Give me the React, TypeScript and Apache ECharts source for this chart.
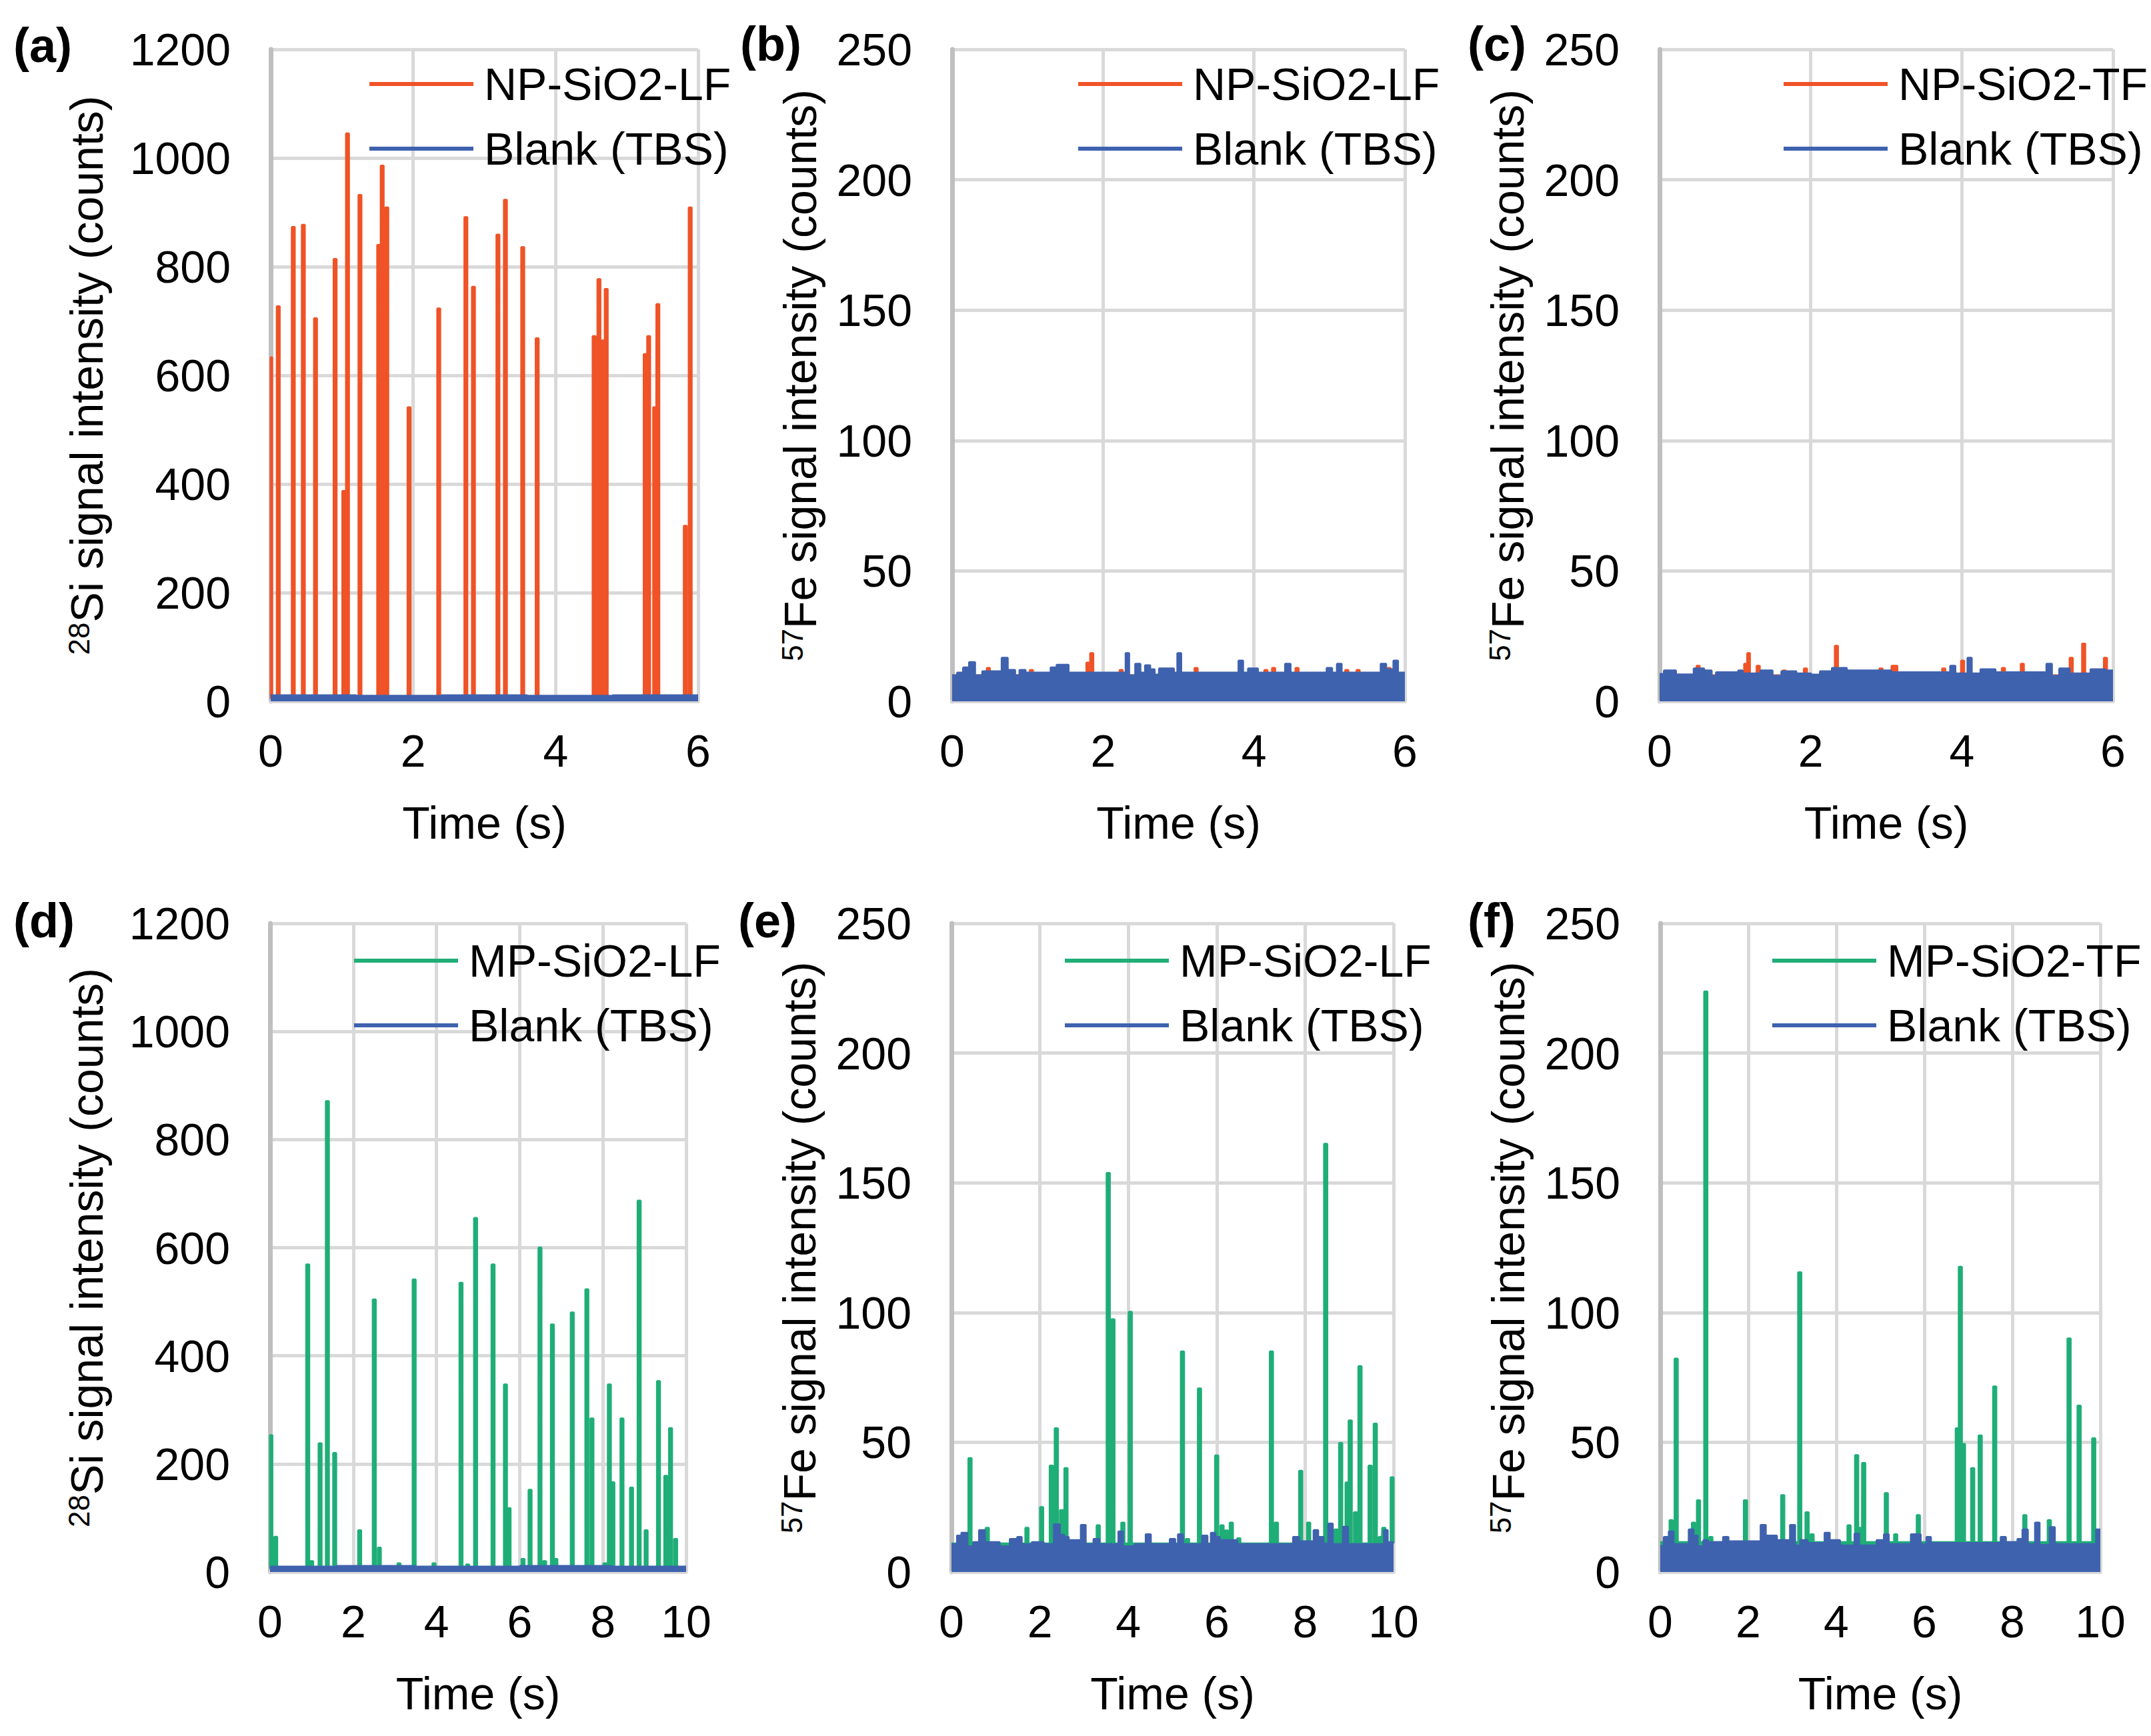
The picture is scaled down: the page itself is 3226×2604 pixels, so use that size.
import React, { useEffect, useRef } from "react";
import * as echarts from "echarts";

const W = 3226;
const H = 2604;
const FONT = '"Liberation Sans", Arial, Helvetica, sans-serif';
const ORANGE = "#EF5327";
const BLUE = "#3F62AE";
const GREEN = "#1FAE77";
const GRIDC = "#D9D9D9";
const AXISC = "#BFBFBF";

// ---------- tick values ----------
const siTicks = [0, 200, 400, 600, 800, 1000, 1200];
const feTicks = [0, 50, 100, 150, 200, 250];
const time6Ticks = [0, 2, 4, 6];
const time10Ticks = [0, 2, 4, 6, 8, 10];

const blankName = "Blank (TBS)";
const timeTitle = "Time (s)";
const siTitle = "{sup|28}Si signal intensity (counts)";
const feTitle = "{sup|57}Fe signal intensity (counts)";

// acquisition step widths (s)
const step6 = 0.04;
const step10 = 0.07;

// ---------- (a) NP-SiO2-LF, 28Si ----------
const aName = "NP-SiO2-LF";
const aSpikeT = [0.0, 0.106, 0.317, 0.458, 0.629, 0.904, 1.026, 1.078, 1.253, 1.516, 1.565, 1.63, 1.942, 2.359, 2.74, 2.846, 3.19, 3.295, 3.538, 3.741, 4.54, 4.608, 4.657, 4.71, 5.257, 5.306, 5.39, 5.435, 5.82, 5.889];
const aSpikeV = [633, 727, 873, 877, 705, 814, 387, 1045, 932, 840, 986, 909, 541, 723, 891, 763, 859, 923, 836, 668, 672, 777, 664, 759, 639, 672, 541, 731, 323, 909];
const aBase = 5;
const aBlankT = [0, 1.2, 2.4, 3.6, 4.8];
const aBlankV = [11, 10, 11, 10, 11];

// ---------- (b) NP-SiO2-LF, 57Fe ----------
const bName = "NP-SiO2-LF";
const bSpikeT = [0.48, 1.05, 1.8, 1.85, 2.24, 3.233, 4.158, 4.26, 4.571, 5.23, 5.38, 5.79];
const bSpikeV = [12.8, 12, 14.8, 18.5, 12, 12.8, 12, 12.8, 12.8, 12, 12, 12.8];
const bBase = 10;
const bBlankT = [0, 0.067, 0.146, 0.225, 0.303, 0.4, 0.657, 0.736, 0.834, 0.893, 0.972, 1.306, 1.385, 1.542, 2.3, 2.345, 2.427, 2.494, 2.557, 2.624, 2.683, 2.742, 2.938, 2.985, 3.035, 3.796, 3.855, 3.922, 4.052, 4.413, 4.484, 4.964, 5.035, 5.1, 5.161, 5.68, 5.751, 5.849, 5.908];
const bBlankV = [10, 11, 13, 15, 10, 11.5, 16.7, 12, 10, 12, 11, 13, 14, 11, 18.5, 10, 14.4, 11, 13.8, 12.3, 10.2, 12.6, 11, 18.5, 11, 15.6, 11, 12.6, 11, 14.4, 11, 12.8, 11, 14.4, 11, 14.4, 12.3, 15.6, 11];

// ---------- (c) NP-SiO2-TF, 57Fe ----------
const cName = "NP-SiO2-TF";
const cSpikeT = [0.51, 1.14, 1.175, 1.305, 1.65, 1.93, 2.34, 2.93, 3.09, 3.125, 3.76, 4.01, 4.55, 4.8, 5.447, 5.612, 5.9];
const cSpikeV = [13.6, 14.4, 18.5, 13.6, 11.8, 12.6, 21.3, 12.6, 13.6, 13.6, 12.6, 15.6, 12.8, 14.4, 16.7, 22.1, 16.7];
const cBase = 10;
const cBlankT = [0, 0.058, 0.216, 0.452, 0.589, 0.688, 0.747, 1.042, 1.1, 1.337, 1.494, 1.612, 1.809, 2.005, 2.123, 2.281, 2.477, 3.067, 3.846, 3.913, 4.075, 4.13, 4.247, 4.444, 5.12, 5.191, 5.29, 5.427, 5.703, 5.9];
const cBlankV = [10.5, 11.8, 10.3, 12.6, 11.8, 9.8, 11.1, 11.8, 10.7, 11.8, 9.8, 11.5, 10.7, 10.2, 11.5, 12.8, 11.8, 11.1, 13.6, 10.7, 16.7, 10.7, 12.3, 11.1, 14.4, 9.8, 12.6, 10.7, 12.3, 11.8];

// ---------- (d) MP-SiO2-LF, 28Si ----------
const dName = "MP-SiO2-LF";
const dSpikeT = [0.02, 0.136, 0.906, 1.0, 1.203, 1.378, 1.554, 2.154, 2.505, 2.627, 3.1, 3.464, 3.94, 4.59, 4.75, 4.94, 5.36, 5.658, 5.745, 6.08, 6.25, 6.488, 6.6, 6.786, 6.87, 7.264, 7.615, 7.737, 8.05, 8.155, 8.24, 8.459, 8.688, 8.871, 9.039, 9.336, 9.512, 9.626, 9.748];
const dSpikeV = [253, 65, 569, 20, 238, 871, 220, 77, 504, 45, 16, 541, 16, 535, 14, 655, 569, 347, 118, 24, 152, 600, 20, 458, 24, 480, 523, 284, 16, 347, 166, 284, 156, 687, 77, 353, 178, 266, 61];
const dBase = 6;
const dBlankT = [0, 1.6, 3.5, 6.0, 8.2];
const dBlankV = [10, 11, 10, 11, 10];

// ---------- (e) MP-SiO2-LF, 57Fe ----------
const eName = "MP-SiO2-LF";
const eSpikeT = [0.419, 0.81, 1.707, 2.039, 2.258, 2.371, 2.49, 2.59, 3.32, 3.546, 3.652, 3.877, 4.044, 5.225, 5.34, 5.61, 6.0, 6.12, 6.22, 6.33, 6.5, 7.237, 7.35, 7.9, 8.08, 8.465, 8.7, 8.804, 8.95, 9.02, 9.14, 9.241, 9.47, 9.587, 9.7, 9.78, 9.97];
const eSpikeV = [43.9, 17, 17, 25, 41, 55.4, 23.8, 40, 18, 153.8, 97.4, 19, 100.3, 85, 12.7, 70.7, 44.9, 18, 16, 19, 13, 85, 19, 39, 19, 165, 16.4, 49.7, 34.5, 58.4, 23, 79.3, 41, 57.2, 13.5, 17, 36.5];
const eBase = 11;
const eBlankT = [0, 0.127, 0.226, 0.359, 0.492, 0.625, 0.757, 1.089, 1.321, 1.488, 1.587, 1.82, 2.085, 2.318, 2.45, 2.55, 2.65, 2.928, 3.035, 3.214, 3.347, 3.778, 3.878, 4.143, 4.395, 4.508, 4.94, 5.059, 5.125, 5.238, 5.67, 5.789, 5.869, 5.968, 6.068, 6.466, 7.728, 7.861, 8.193, 8.293, 8.412, 8.525, 8.624, 8.857, 8.97, 9.786, 9.866];
const eBlankV = [10.7, 14.0, 15.1, 9.9, 11.5, 16.1, 11.5, 9.9, 12.7, 13.5, 10.7, 11.5, 10.7, 18.4, 14.3, 13.5, 12.3, 18.1, 10.7, 12.7, 10.7, 15.6, 9.9, 10.7, 14.5, 10.7, 12.7, 10.7, 14.5, 10.7, 14.0, 10.7, 15.1, 13.5, 12.3, 10.7, 13.5, 11.8, 16.1, 13.5, 11.0, 18.6, 10.7, 17.4, 10.7, 16.1, 11.5];

// ---------- (f) MP-SiO2-TF, 57Fe ----------
const fName = "MP-SiO2-TF";
const fSpikeT = [0.248, 0.362, 0.755, 0.869, 1.035, 1.15, 1.936, 2.783, 3.17, 3.336, 3.45, 4.29, 4.463, 4.55, 4.623, 5.137, 5.35, 5.864, 6.75, 6.818, 6.89, 7.1, 7.27, 7.6, 8.285, 8.84, 9.29, 9.518, 9.85];
const fSpikeV = [20, 82.2, 19, 27.6, 223.7, 13.5, 27.6, 29.6, 115.5, 23, 14.5, 18, 45, 17, 42, 30.4, 14.5, 21.9, 55.4, 117.6, 49.3, 40, 52.6, 71.5, 21.9, 20, 90, 64.1, 51.5];
const fBase = 11.5;
const fBlankT = [0, 0.082, 0.195, 0.302, 0.649, 0.756, 0.849, 0.982, 1.082, 1.429, 1.549, 2.283, 2.396, 2.65, 2.95, 3.063, 3.183, 3.35, 3.736, 3.85, 4.083, 4.417, 4.517, 4.917, 5.083, 5.191, 5.697, 5.917, 6.05, 6.15, 7.738, 7.852, 8.118, 8.232, 8.351, 8.518, 8.618, 8.852, 8.965, 9.905];
const fBlankV = [10, 13.5, 15.6, 10.7, 16.4, 14, 9.9, 12.3, 11.5, 13.5, 11.8, 18.1, 14, 12.3, 18.1, 10.2, 12.3, 11.2, 15.1, 12.3, 10.2, 14.8, 10.2, 12.3, 14.5, 10.7, 14.5, 10.7, 13.5, 11.2, 13.5, 11.5, 12.7, 16.4, 10.7, 19, 10.4, 17.3, 10.7, 16.4];

// ---------- panel layout ----------
type Panel = {
  label: string; name: string; color: string;
  spikeT: number[]; spikeV: number[]; base: number; step: number;
  blankT: number[]; blankV: number[];
  yTicks: number[]; xTicks: number[]; yTitle: string;
  grid: { left: number; top: number; width: number; height: number };
  labelPos: [number, number]; legendPos: [number, number]; yNameGap: number;
};

const panels: Panel[] = [
  { label: "(a)", name: aName, color: ORANGE, spikeT: aSpikeT, spikeV: aSpikeV, base: aBase, step: step6, blankT: aBlankT, blankV: aBlankV, yTicks: siTicks, xTicks: time6Ticks, yTitle: siTitle,
    grid: { left: 406, top: 74, width: 641, height: 978 }, labelPos: [20, 68], legendPos: [554, 86], yNameGap: 242 },
  { label: "(b)", name: bName, color: ORANGE, spikeT: bSpikeT, spikeV: bSpikeV, base: bBase, step: step6, blankT: bBlankT, blankV: bBlankV, yTicks: feTicks, xTicks: time6Ticks, yTitle: feTitle,
    grid: { left: 1428, top: 74, width: 679, height: 978 }, labelPos: [1110, 66], legendPos: [1617, 86], yNameGap: 194 },
  { label: "(c)", name: cName, color: ORANGE, spikeT: cSpikeT, spikeV: cSpikeV, base: cBase, step: step6, blankT: cBlankT, blankV: cBlankV, yTicks: feTicks, xTicks: time6Ticks, yTitle: feTitle,
    grid: { left: 2489, top: 74, width: 680, height: 978 }, labelPos: [2201, 66], legendPos: [2675, 86], yNameGap: 194 },
  { label: "(d)", name: dName, color: GREEN, spikeT: dSpikeT, spikeV: dSpikeV, base: dBase, step: step10, blankT: dBlankT, blankV: dBlankV, yTicks: siTicks, xTicks: time10Ticks, yTitle: siTitle,
    grid: { left: 405, top: 1385, width: 624, height: 973 }, labelPos: [20, 1381], legendPos: [531, 1401], yNameGap: 241 },
  { label: "(e)", name: eName, color: GREEN, spikeT: eSpikeT, spikeV: eSpikeV, base: eBase, step: step10, blankT: eBlankT, blankV: eBlankV, yTicks: feTicks, xTicks: time10Ticks, yTitle: feTitle,
    grid: { left: 1427, top: 1385, width: 663, height: 973 }, labelPos: [1107, 1381], legendPos: [1597, 1401], yNameGap: 194 },
  { label: "(f)", name: fName, color: GREEN, spikeT: fSpikeT, spikeV: fSpikeV, base: fBase, step: step10, blankT: fBlankT, blankV: fBlankV, yTicks: feTicks, xTicks: time10Ticks, yTitle: feTitle,
    grid: { left: 2490, top: 1385, width: 660, height: 973 }, labelPos: [2201, 1381], legendPos: [2658, 1401], yNameGap: 194 },
];

// step-function data from spike lists
function spikeSteps(ts: number[], vs: number[], base: number, w: number, tMax: number) {
  const pts: number[][] = [[0, base]];
  for (let i = 0; i < ts.length; i++) {
    const lastT = pts[pts.length - 1][0];
    const s = Math.max(lastT, ts[i] - w / 2);
    const e = Math.min(tMax, ts[i] + w / 2);
    pts.push([s, vs[i]]);
    pts.push([e, base]);
  }
  pts.push([tMax, base]);
  return pts;
}
function blankSteps(ts: number[], vs: number[], tMax: number) {
  const pts = ts.map((t, i) => [t, vs[i]]);
  pts.push([tMax, vs[vs.length - 1]]);
  return pts;
}

function buildOption(): any {
  const textBase = { fontFamily: FONT, color: "#000" };
  const grid = panels.map((p) => ({ ...p.grid, containLabel: false }));
  const xAxis = panels.map((p, i) => ({
    type: "value", gridIndex: i,
    min: p.xTicks[0], max: p.xTicks[p.xTicks.length - 1], interval: p.xTicks[1] - p.xTicks[0],
    axisLine: { show: true, lineStyle: { color: GRIDC, width: 5 } },
    axisTick: { show: false },
    splitLine: { show: true, lineStyle: { color: GRIDC, width: 5 } },
    axisLabel: { ...textBase, fontSize: 68, margin: 40, formatter: (v: number) => String(v) },
    name: timeTitle, nameLocation: "middle", nameGap: 148,
    nameTextStyle: { ...textBase, fontSize: 68 },
  }));
  const yAxis = panels.map((p, i) => ({
    type: "value", gridIndex: i,
    min: p.yTicks[0], max: p.yTicks[p.yTicks.length - 1], interval: p.yTicks[1] - p.yTicks[0],
    axisLine: { show: true, lineStyle: { color: AXISC, width: 7 } },
    axisTick: { show: false },
    splitLine: { show: true, lineStyle: { color: GRIDC, width: 5 } },
    axisLabel: { ...textBase, fontSize: 68, margin: 60, formatter: (v: number) => String(v) },
    name: p.yTitle, nameLocation: "middle", nameRotate: 90, nameGap: p.yNameGap,
    nameTextStyle: {
      ...textBase, fontSize: 68,
      rich: { sup: { fontFamily: FONT, color: "#000", fontSize: 44, verticalAlign: "top", lineHeight: 44 } },
    },
  }));
  const series: any[] = [];
  panels.forEach((p, i) => {
    const tMax = p.xTicks[p.xTicks.length - 1];
    series.push({
      type: "line", name: p.name, xAxisIndex: i, yAxisIndex: i, z: 2,
      data: spikeSteps(p.spikeT, p.spikeV, p.base, p.step, tMax),
      step: "end", symbol: "none", showSymbol: false, silent: true,
      lineStyle: { color: p.color, width: 3 }, itemStyle: { color: p.color },
      areaStyle: { color: p.color, opacity: 1 },
    });
    series.push({
      type: "line", name: blankName, xAxisIndex: i, yAxisIndex: i, z: 3,
      data: blankSteps(p.blankT, p.blankV, tMax),
      step: "end", symbol: "none", showSymbol: false, silent: true,
      lineStyle: { color: BLUE, width: 3 }, itemStyle: { color: BLUE },
      areaStyle: { color: BLUE, opacity: 1 },
    });
  });
  const legend = panels.map((p) => ({
    data: [p.name, blankName], orient: "vertical",
    left: p.legendPos[0], top: p.legendPos[1], padding: 0,
    itemWidth: 156, itemHeight: 6, itemGap: 17, icon: "rect", selectedMode: false,
    textStyle: { ...textBase, fontSize: 68, lineHeight: 80, padding: [0, 0, 0, 11] },
  }));
  const graphic = panels.map((p) => ({
    type: "text", x: p.labelPos[0], y: p.labelPos[1], silent: true,
    style: { text: p.label, font: `bold 72px ${FONT}`, fill: "#000", textAlign: "left", textVerticalAlign: "middle" },
  }));
  return { animation: false, backgroundColor: "#fff", grid, xAxis, yAxis, series, legend, graphic };
}

export default function App() {
  const ref = useRef<HTMLDivElement>(null);
  useEffect(() => {
    if (!ref.current) return;
    const chart = echarts.init(ref.current, undefined, { renderer: "svg", width: W, height: H });
    chart.setOption(buildOption());
    return () => chart.dispose();
  }, []);
  return <div ref={ref} style={{ position: "fixed", left: 0, top: 0, width: W, height: H, background: "#fff" }} />;
}
